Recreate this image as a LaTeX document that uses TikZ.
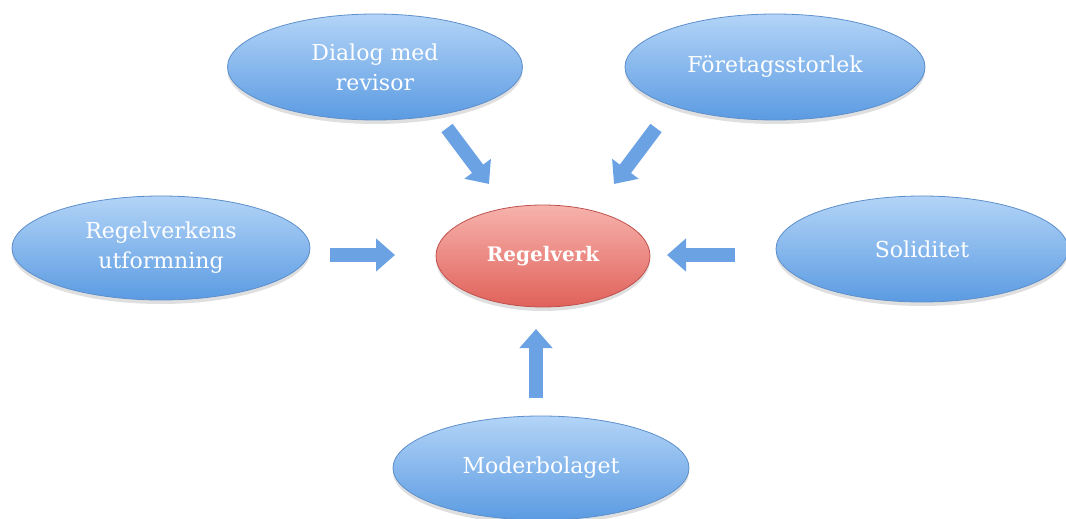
\documentclass[tikz,border=0pt]{standalone}
\usepackage{fontspec}
\setmainfont{DejaVu Serif}
\usetikzlibrary{shapes.geometric,shadows,arrows.meta}
\definecolor{btop}{HTML}{B3D4F7}
\definecolor{bbot}{HTML}{5B9BE2}
\definecolor{bline}{HTML}{5D8FCB}
\definecolor{rtop}{HTML}{F6B3AC}
\definecolor{rbot}{HTML}{E0625B}
\definecolor{rline}{HTML}{C0504D}
\definecolor{arr}{HTML}{6AA2E4}
\tikzset{
  oval/.style={ellipse, draw=bline, line width=0.8pt, top color=btop, bottom color=bbot,
    inner sep=0pt, text=white, align=center, font=\fontsize{22}{30}\selectfont,
    drop shadow={shadow xshift=0pt, shadow yshift=-4pt, opacity=0.25}},
  redoval/.style={oval, draw=rline, top color=rtop, bottom color=rbot,
    font=\fontsize{20}{24}\selectfont\bfseries},
  blockarrow/.style={draw=arr, line width=14pt, -{Triangle[width=32pt,length=19pt]}}
}
\begin{document}
\begin{tikzpicture}[x=1pt,y=-1pt]
\useasboundingbox (0,0) rectangle (1066,519);
\node[oval, minimum width=295pt, minimum height=106pt] (dialog) at (375,67) {Dialog med\\revisor};
\node[oval, minimum width=300pt, minimum height=106pt] (foretag) at (775,67) {Företagsstorlek};
\node[oval, minimum width=298pt, minimum height=104pt] (regelu) at (161,248) {Regelverkens\\utformning};
\node[oval, minimum width=292pt, minimum height=106pt] (solid) at (922,249) {Soliditet};
\node[oval, minimum width=296pt, minimum height=104pt] (moder) at (541,468) {Moderbolaget};
\node[redoval, minimum width=214pt, minimum height=102pt] (regel) at (543,256) {Regelverk};
\coordinate (a1s) at (447,128); \coordinate (a1e) at (489,184);
\coordinate (a2s) at (656,128); \coordinate (a2e) at (614,184);
\coordinate (a3s) at (330,255); \coordinate (a3e) at (395,255);
\coordinate (a4s) at (735,255); \coordinate (a4e) at (667,255);
\coordinate (a5s) at (536,398); \coordinate (a5e) at (536,329);
\draw[blockarrow] (a1s) -- (a1e);
\draw[blockarrow] (a2s) -- (a2e);
\draw[blockarrow] (a3s) -- (a3e);
\draw[blockarrow] (a4s) -- (a4e);
\draw[blockarrow] (a5s) -- (a5e);
\end{tikzpicture}
\end{document}
